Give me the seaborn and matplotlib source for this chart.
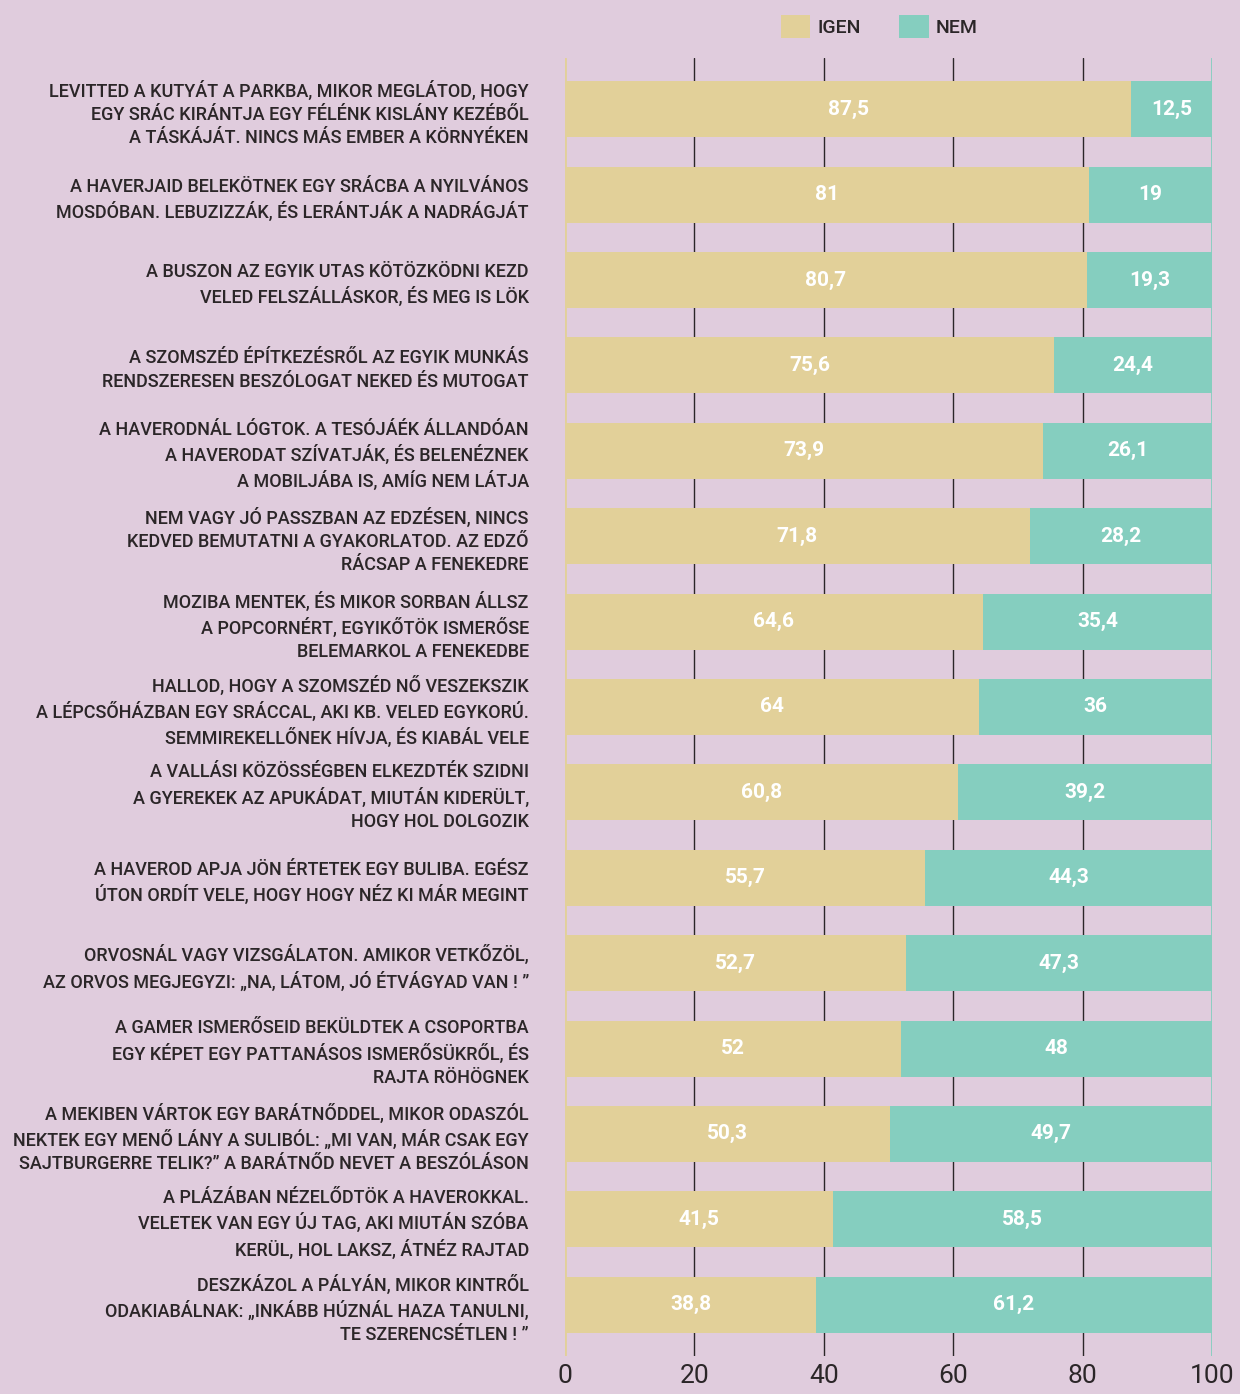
import pandas as pd
import matplotlib.pyplot as plt
import seaborn as sns

labels = [
    "LEVITTED A KUTYÁT A PARKBA, MIKOR MEGLÁTOD, HOGY\nEGY SRÁC KIRÁNTJA EGY FÉLÉNK KISLÁNY KEZÉBŐL\nA TÁSKÁJÁT. NINCS MÁS EMBER A KÖRNYÉKEN",
    "A HAVERJAID BELEKÖTNEK EGY SRÁCBA A NYILVÁNOS\nMOSDÓBAN. LEBUZIZZÁK, ÉS LERÁNTJÁK A NADRÁGJÁT",
    "A BUSZON AZ EGYIK UTAS KÖTÖZKÖDNI KEZD\nVELED FELSZÁLLÁSKOR, ÉS MEG IS LÖK",
    "A SZOMSZÉD ÉPÍTKEZÉSRŐL AZ EGYIK MUNKÁS\nRENDSZERESEN BESZÓLOGAT NEKED ÉS MUTOGAT",
    "A HAVERODNÁL LÓGTOK. A TESÓJÁÉK ÁLLANDÓAN\nA HAVERODAT SZÍVATJÁK, ÉS BELENÉZNEK\nA MOBILJÁBA IS, AMÍG NEM LÁTJA",
    "NEM VAGY JÓ PASSZBAN AZ EDZÉSEN, NINCS\nKEDVED BEMUTATNI A GYAKORLATOD. AZ EDZŐ\nRÁCSAP A FENEKEDRE",
    "MOZIBA MENTEK, ÉS MIKOR SORBAN ÁLLSZ\nA POPCORNÉRT, EGYIKŐTÖK ISMERŐSE\nBELEMARKOL A FENEKEDBE",
    "HALLOD, HOGY A SZOMSZÉD NŐ VESZEKSZIK\nA LÉPCSŐHÁZBAN EGY SRÁCCAL, AKI KB. VELED EGYKORÚ.\nSEMMIREKELLŐNEK HÍVJA, ÉS KIABÁL VELE",
    "A VALLÁSI KÖZÖSSÉGBEN ELKEZDTÉK SZIDNI\nA GYEREKEK AZ APUKÁDAT, MIUTÁN KIDERÜLT,\nHOGY HOL DOLGOZIK",
    "A HAVEROD APJA JÖN ÉRTETEK EGY BULIBA. EGÉSZ\nÚTON ORDÍT VELE, HOGY HOGY NÉZ KI MÁR MEGINT",
    "ORVOSNÁL VAGY VIZSGÁLATON. AMIKOR VETKŐZÖL,\nAZ ORVOS MEGJEGYZI: „NA, LÁTOM, JÓ ÉTVÁGYAD VAN ! ”",
    "A GAMER ISMERŐSEID BEKÜLDTEK A CSOPORTBA\nEGY KÉPET EGY PATTANÁSOS ISMERŐSÜKRŐL, ÉS\nRAJTA RÖHÖGNEK",
    "A MEKIBEN VÁRTOK EGY BARÁTNŐDDEL, MIKOR ODASZÓL\nNEKTEK EGY MENŐ LÁNY A SULIBÓL: „MI VAN, MÁR CSAK EGY\nSAJTBURGERRE TELIK?” A BARÁTNŐD NEVET A BESZÓLÁSON",
    "A PLÁZÁBAN NÉZELŐDTÖK A HAVEROKKAL.\nVELETEK VAN EGY ÚJ TAG, AKI MIUTÁN SZÓBA\nKERÜL, HOL LAKSZ, ÁTNÉZ RAJTAD",
    "DESZKÁZOL A PÁLYÁN, MIKOR KINTRŐL\nODAKIABÁLNAK: „INKÁBB HÚZNÁL HAZA TANULNI,\nTE SZERENCSÉTLEN ! ”",
]
igen = [87.5, 81, 80.7, 75.6, 73.9, 71.8, 64.6, 64, 60.8, 55.7, 52.7, 52, 50.3, 41.5, 38.8]
nem = [12.5, 19, 19.3, 24.4, 26.1, 28.2, 35.4, 36, 39.2, 44.3, 47.3, 48, 49.7, 58.5, 61.2]
ticks = [0, 20, 40, 60, 80, 100]

BG = '#e0ccdd'
YELLOW = '#e2d099'
TEAL = '#85cebf'
DARK = '#2b2628'

sns.set_theme(style='white')
plt.rcParams['font.family'] = ['Roboto', 'DejaVu Sans']

df = pd.DataFrame({'label': labels, 'igen': igen, 'nem': nem})
df['total'] = df['igen'] + df['nem']

fig = plt.figure(figsize=(12.4, 13.94), dpi=100, facecolor=BG)
ax = fig.add_axes([0.4556, 0.0273, 0.5218, 0.9311])
ax.set_facecolor(BG)

for x in ticks[1:-1]:
    ax.axvline(x, color=DARK, lw=1, zorder=0)
ax.axvline(0, color=YELLOW, lw=2, zorder=0)
ax.axvline(100, color=TEAL, lw=2, zorder=0)

sns.barplot(data=df, x='total', y='label', color=TEAL, width=0.656,
            saturation=1, orient='h', ax=ax, label='NEM', zorder=2,
            linewidth=0, edgecolor='none')
sns.barplot(data=df, x='igen', y='label', color=YELLOW, width=0.656,
            saturation=1, orient='h', ax=ax, label='IGEN', zorder=3,
            linewidth=0, edgecolor='none')


def fmt(v):
    s = f"{v:.1f}".rstrip('0').rstrip('.')
    return s.replace('.', ',')


for i, (a, b) in enumerate(zip(igen, nem)):
    ax.text(a / 2, i, fmt(a), ha='center', va='center', color='white',
            fontsize=15, fontweight='bold', zorder=4)
    ax.text(a + b / 2, i, fmt(b), ha='center', va='center', color='white',
            fontsize=15, fontweight='bold', zorder=4)

ax.set_xlim(0, 100)
ax.set_ylim(14.6, -0.6)
ax.set_xticks(ticks)
ax.set_xticklabels([str(t) for t in ticks], fontsize=19, color=DARK)
ax.set_xlabel('')
ax.set_ylabel('')
ax.tick_params(axis='x', length=0, pad=6)
ax.tick_params(axis='y', length=0, pad=26)
for t in ax.get_yticklabels():
    t.set_fontsize(13)
    t.set_fontweight('medium')
    t.set_color(DARK)
    t.set_linespacing(1.38)
    t.set_ha('right')
sns.despine(ax=ax, left=True, bottom=True)

handles, lbls = ax.get_legend_handles_labels()
order = [lbls.index('IGEN'), lbls.index('NEM')]
leg = fig.legend([handles[k] for k in order], [lbls[k] for k in order],
                 loc='center', bbox_to_anchor=(0.709, 0.981), ncol=2,
                 frameon=False, fontsize=14, handlelength=1.5, handleheight=1.5,
                 handletextpad=0.35, columnspacing=2.0)
for txt in leg.get_texts():
    txt.set_color(DARK)
    txt.set_fontweight('medium')
if ax.get_legend() is not None:
    ax.get_legend().remove()

fig.savefig('out.png', dpi=100, facecolor=BG)
